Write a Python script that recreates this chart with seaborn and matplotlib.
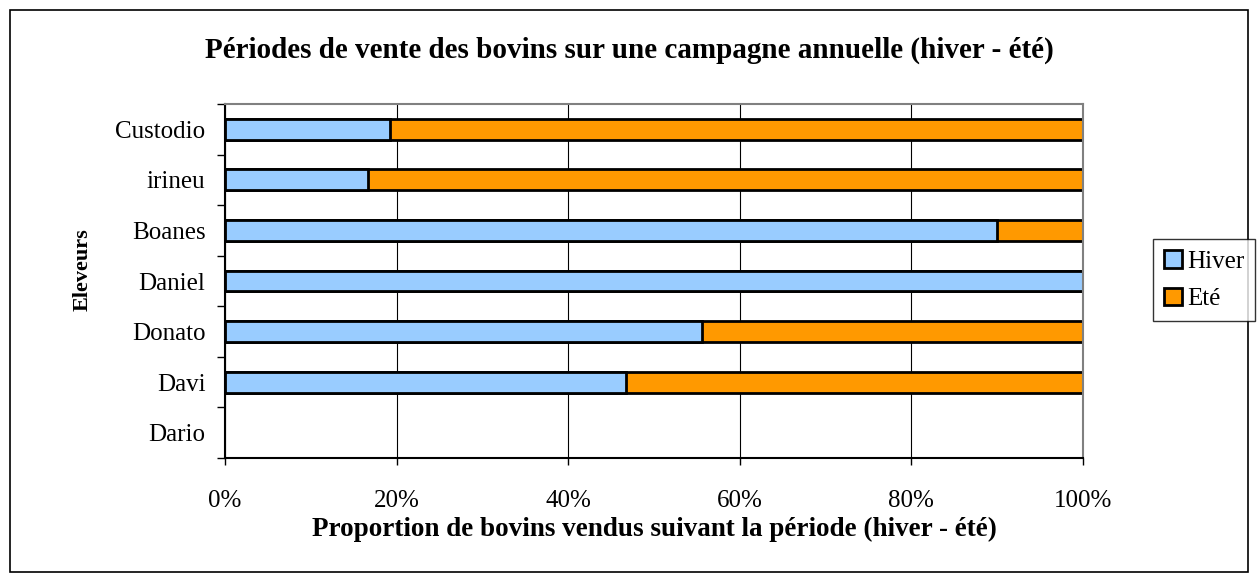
import numpy as np
import pandas as pd
import seaborn as sns
import matplotlib.pyplot as plt
from matplotlib.patches import Rectangle
from matplotlib.ticker import PercentFormatter

eleveurs = ['Custodio', 'irineu', 'Boanes', 'Daniel', 'Donato', 'Davi', 'Dario']
hiver = [19.2, 16.7, 90.0, 100.0, 55.6, 46.7, np.nan]
ete = [80.8, 83.3, 10.0, 0.0, 44.4, 53.3, np.nan]

df = pd.DataFrame({'Eleveur': eleveurs, 'Hiver': hiver, 'Ete': ete})
df['Total'] = df['Hiver'] + df['Ete']

sns.set_style('white')
plt.rcParams['font.family'] = ['Liberation Serif', 'DejaVu Serif']
plt.rcParams['text.color'] = 'black'
plt.rcParams['axes.labelcolor'] = 'black'
plt.rcParams['xtick.color'] = 'black'
plt.rcParams['ytick.color'] = 'black'

fig = plt.figure(figsize=(12.58, 5.82), dpi=100)
ax = fig.add_axes([225 / 1258, 1 - 458 / 582, (1083 - 225) / 1258, (458 - 104) / 582])

sns.barplot(data=df, x='Total', y='Eleveur', order=eleveurs, color='#ff9900',
            saturation=1, width=0.41, edgecolor='black', linewidth=2, ax=ax, label='Eté')
sns.barplot(data=df, x='Hiver', y='Eleveur', order=eleveurs, color='#99ccff',
            saturation=1, width=0.41, edgecolor='black', linewidth=2, ax=ax, label='Hiver')

handles, labels = ax.get_legend_handles_labels()
if ax.get_legend() is not None:
    ax.get_legend().remove()

ax.set_xlim(0, 100)
ax.set_ylim(6.5, -0.5)
ax.set_xticks([0, 20, 40, 60, 80, 100])
ax.xaxis.set_major_formatter(PercentFormatter(decimals=0))
ax.grid(axis='x', color='black', linewidth=0.8)
ax.set_axisbelow(True)
ax.tick_params(axis='x', length=5, width=1, direction='out', labelsize=18, pad=18, bottom=True)
ax.tick_params(axis='y', length=0, labelsize=18, pad=14)
ax.set_yticks(np.arange(-0.5, 7.0, 1.0), minor=True)
ax.tick_params(axis='y', which='minor', length=6, width=1, direction='out', left=True)

for s in ['top', 'right']:
    ax.spines[s].set_color('#808080')
    ax.spines[s].set_linewidth(1.5)
for s in ['left', 'bottom']:
    ax.spines[s].set_color('black')
    ax.spines[s].set_linewidth(1.5)

ax.set_xlabel('Proportion de bovins vendus suivant la période (hiver - été)',
              fontsize=19.5, fontweight='bold')
ax.xaxis.set_label_coords(0.5, -(529 - 458) / (458 - 104), transform=ax.transAxes)
ax.xaxis.label.set_va('center')
ax.set_ylabel('Eleveurs', fontsize=16, fontweight='bold')
ax.yaxis.set_label_coords(-(225 - 83) / (1083 - 225), 1 - (270 - 104) / (458 - 104))
ax.yaxis.label.set_va('center')
fig.text(0.5, 1 - 50 / 582, 'Périodes de vente des bovins sur une campagne annuelle (hiver - été)',
         ha='center', va='center', fontsize=21, fontweight='bold')

order = [labels.index('Hiver'), labels.index('Eté')]
leg = fig.legend([handles[i] for i in order], [labels[i] for i in order],
                 loc='center left', bbox_to_anchor=(1153 / 1258, 1 - 280 / 582),
                 fontsize=18, frameon=True, fancybox=False, edgecolor='black',
                 handlelength=0.7, handleheight=0.7, handletextpad=0.2,
                 borderpad=0.45, labelspacing=0.6, borderaxespad=0)
leg.get_frame().set_linewidth(1)

fig.patches.append(Rectangle((10 / 1258, 10 / 582), 1238 / 1258, 562 / 582,
                             transform=fig.transFigure, fill=False,
                             edgecolor='black', linewidth=1.2))

fig.savefig('out.png', dpi=100)
